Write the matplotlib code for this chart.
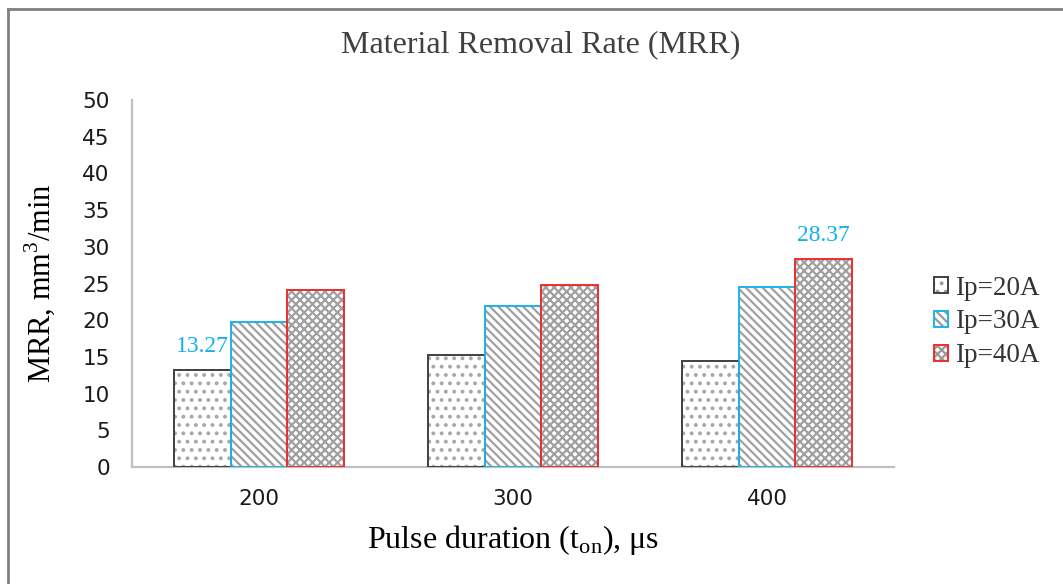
import matplotlib
matplotlib.use("Agg")
import matplotlib.pyplot as plt
import numpy as np
from matplotlib.patches import Patch
from matplotlib.legend_handler import HandlerTuple
from matplotlib.lines import Line2D

categories = ["200", "300", "400"]
series_names = ["Ip=20A", "Ip=30A", "Ip=40A"]
ip20 = [13.27, 15.3, 14.5]
ip30 = [19.8, 21.9, 24.5]
ip40 = [24.1, 24.8, 28.37]
series_values = [ip20, ip30, ip40]
edge_colors = ["#404040", "#19B4EC", "#EE2D2D"]
hatches = ["..", "\\\\\\\\", "xxxx"]
hatch_grays = ["#a8a8a8", "#a0a0a0", "#a0a0a0"]
label_color = "#12B0EC"

plt.rcParams['font.family'] = ['Liberation Serif', 'DejaVu Sans']
plt.rcParams['mathtext.fontset'] = 'custom'
plt.rcParams['mathtext.rm'] = 'Liberation Serif'
plt.rcParams['hatch.linewidth'] = 1.6

fig = plt.figure(figsize=(10.63, 5.84), dpi=100)
ax = fig.add_axes([132/1063, 1-467/584, (894-132)/1063, (467-100)/584])

x = np.arange(len(categories))
width = 0.222
offsets = [-width, 0, width]
handles = []
for vals, off, ec, h, hg in zip(series_values, offsets, edge_colors, hatches, hatch_grays):
    ax.bar(x + off, vals, width, facecolor="white", edgecolor=hg,
           hatch=h, linewidth=0, zorder=2)
    ax.bar(x + off, vals, width, facecolor="none", edgecolor=ec,
           linewidth=1.4, zorder=3)
    p1 = Patch(facecolor="white", edgecolor="#9a9a9a", hatch=h, linewidth=0)
    p2 = Patch(facecolor="none", edgecolor=ec, linewidth=1.4)
    handles.append((p1, p2))

# data labels
ax.annotate(f"{ip20[0]:.2f}", (x[0] + offsets[0], ip20[0]), xytext=(0, 9),
            textcoords="offset points", ha="center", va="bottom",
            fontsize=17, color=label_color)
ax.annotate(f"{ip40[2]:.2f}", (x[2] + offsets[2], ip40[2]), xytext=(0, 9),
            textcoords="offset points", ha="center", va="bottom",
            fontsize=17, color=label_color)

ax.set_xlim(-0.5, 2.5)
ax.set_ylim(0, 50)
ax.set_yticks(np.arange(0, 51, 5))
ax.set_xticks(x)
ax.set_xticklabels(categories)
for lab in ax.get_xticklabels() + ax.get_yticklabels():
    lab.set_fontfamily('DejaVu Sans')
    lab.set_fontsize(15.5)
    lab.set_color("#1a1a1a")
ax.tick_params(axis='y', length=0, pad=16)
ax.tick_params(axis='x', length=0, pad=16)
for s in ["top", "right"]:
    ax.spines[s].set_visible(False)
for s in ["left", "bottom"]:
    ax.spines[s].set_color("#bfbfbf")
    ax.spines[s].set_linewidth(1.6)

ax.set_ylabel(r"MRR, mm$^\mathregular{3}$/min", fontsize=22)
ax.yaxis.label.set_va("center")
ax.yaxis.set_label_coords(-0.1207, 0.5)
ax.set_xlabel(r"Pulse duration (t$_\mathregular{on}$), μs", fontsize=23)
ax.xaxis.label.set_va("center")
ax.xaxis.set_label_coords(0.5, -0.198)

fig.text(541/1063, 1-45/584, "Material Removal Rate (MRR)", ha="center",
         va="center", fontsize=23, color="#404040")

leg = fig.legend(handles, series_names, handler_map={tuple: HandlerTuple(ndivide=1)},
                 loc="center left", bbox_to_anchor=(0.879, 1-322/584),
                 frameon=False, fontsize=19.5, handlelength=0.5, handleheight=0.5,
                 handletextpad=0.25, labelspacing=0.33, borderpad=0, borderaxespad=0)
for t in leg.get_texts():
    t.set_color("#333333")

# figure border (left and top visible)
fig.add_artist(Line2D([8/1063, 8/1063], [0, 1-9/584], color="#808080", lw=2,
                      transform=fig.transFigure))
fig.add_artist(Line2D([8/1063, 1], [1-9/584, 1-9/584], color="#808080", lw=2,
                      transform=fig.transFigure))

fig.savefig("out.png", dpi=100)
